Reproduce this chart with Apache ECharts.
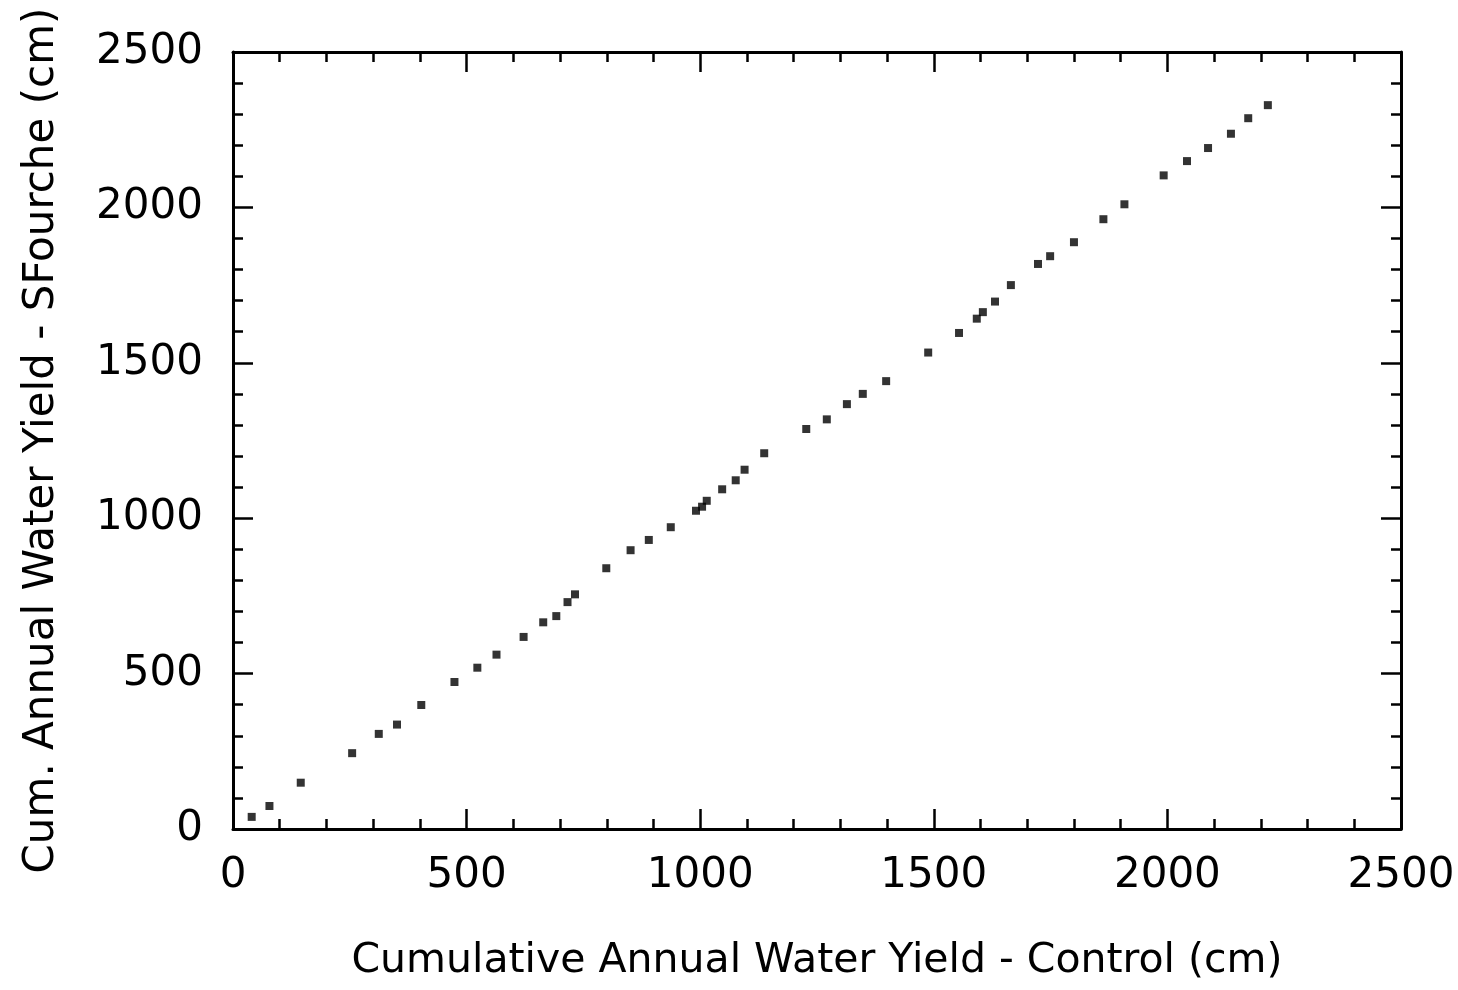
<!DOCTYPE html>
<html>
<head>
<meta charset="utf-8">
<script src="https://cdn.jsdelivr.net/npm/echarts@6/dist/echarts.min.js"></script>
<style>
  html, body { margin: 0; padding: 0; background: #ffffff; }
  #chart { width: 1458px; height: 990px; }
</style>
</head>
<body>
<div id="chart"></div>
<script>
// Cumulative annual water yield: control watershed (x) vs. SFourche (y), in cm
const controlCum = [40, 78, 145, 255, 312, 351, 403, 474, 523, 564, 622, 664, 692, 716, 732,
  799, 851, 890, 937, 991, 1004, 1014, 1047, 1076, 1095, 1137, 1227, 1271, 1314, 1348, 1398,
  1488, 1554, 1592, 1605, 1631, 1665, 1723, 1749, 1800, 1863, 1908, 1992, 2042, 2087, 2136,
  2173, 2215];
const sfourcheCum = [39, 74, 149, 244, 306, 336, 399, 473, 519, 561, 618, 665, 685, 730, 755,
  839, 897, 930, 971, 1024, 1037, 1056, 1093, 1122, 1156, 1209, 1287, 1318, 1367, 1400, 1441,
  1533, 1596, 1642, 1663, 1697, 1750, 1818, 1843, 1888, 1962, 2010, 2103, 2149, 2191, 2237,
  2287, 2329];

const xTitle = 'Cumulative Annual Water Yield - Control (cm)';
const yTitle = 'Cum. Annual Water Yield - SFourche (cm)';
const axisMin = 0, axisMax = 2500, majorStep = 500;

const points = controlCum.map((x, i) => [x, sfourcheCum[i]]);

const FONT = 'DejaVu Sans';
const INK = '#000000';

// Plain integers, no thousands separator
const plainLabel = v => String(v);

function frameAxis(position, showLabels, extra) {
  return Object.assign({
    type: 'value',
    position: position,
    min: axisMin,
    max: axisMax,
    interval: majorStep,
    axisLine: { show: true, onZero: false, lineStyle: { color: INK, width: 3 } },
    axisTick: { show: true, inside: true, length: 20, lineStyle: { color: INK, width: 2.5 } },
    minorTick: { show: true, splitNumber: 5, length: 10, lineStyle: { color: INK, width: 2.5 } },
    splitLine: { show: false },
    minorSplitLine: { show: false },
    axisLabel: { show: showLabels }
  }, extra || {});
}

const chart = echarts.init(document.getElementById('chart'), null, { renderer: 'canvas' });

chart.setOption({
  backgroundColor: '#ffffff',
  animation: false,
  grid: { left: 233, right: 57, top: 52, bottom: 161, containLabel: false, outerBoundsMode: 'none' },
  xAxis: [
    frameAxis('bottom', true, {
      name: xTitle,
      nameLocation: 'middle',
      nameGap: 112,
      nameTextStyle: { color: INK, fontFamily: FONT, fontSize: 41 },
      axisLabel: { show: true, color: INK, fontFamily: FONT, fontSize: 42, margin: 26,
        formatter: plainLabel, showMinLabel: true, showMaxLabel: true }
    }),
    frameAxis('top', false)
  ],
  yAxis: [
    frameAxis('left', true, {
      name: yTitle,
      nameLocation: 'middle',
      nameGap: 170,
      nameTextStyle: { color: INK, fontFamily: FONT, fontSize: 42 },
      axisLabel: { show: true, color: INK, fontFamily: FONT, fontSize: 42, margin: 30,
        formatter: plainLabel, showMinLabel: true, showMaxLabel: true }
    }),
    frameAxis('right', false)
  ],
  series: [{
    type: 'scatter',
    xAxisIndex: 0,
    yAxisIndex: 0,
    data: points,
    symbol: 'rect',
    symbolSize: 8,
    itemStyle: { color: INK }
  }]
});
</script>
</body>
</html>
